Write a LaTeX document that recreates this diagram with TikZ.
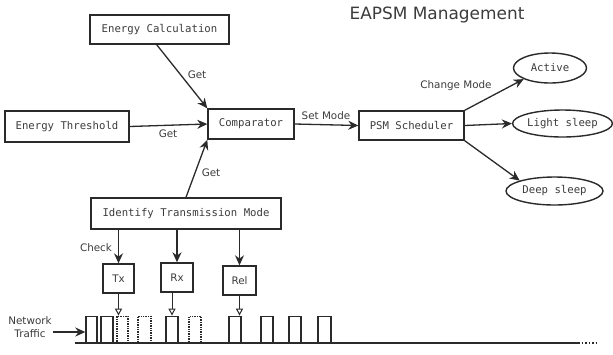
\documentclass[tikz,border=0pt]{standalone}
\usepackage{fontspec}
\setmainfont{DejaVu Sans}
\setmonofont{DejaVu Sans Mono}
\usetikzlibrary{arrows.meta,shapes.geometric,calc}
\definecolor{ink}{HTML}{2A2A2A}
\definecolor{txt}{HTML}{3C3C3C}
\begin{document}
\begin{tikzpicture}[x=1bp,y=-1bp,
  box/.style={draw=ink,line width=1.4bp,rectangle,inner sep=0pt,text=txt,font=\fontsize{10.7}{12}\selectfont\ttfamily},
  oval/.style={draw=ink,line width=1.4bp,ellipse,inner sep=0pt,text=txt,font=\fontsize{10.7}{12}\selectfont\ttfamily},
  smallbox/.style={draw=ink,line width=1.4bp,rectangle,inner sep=0pt,text=txt,font=\fontsize{10.4}{12}\selectfont},
  arr/.style={draw=ink,line width=1.3bp,-{Stealth[length=10bp,width=9bp]}},
  openarr/.style={draw=ink,line width=1bp,-{Triangle[open,length=7bp,width=7bp]}},
  lbl/.style={inner sep=0pt,text=txt,font=\fontsize{10.4}{12}\selectfont},
  pulse/.style={draw=ink,line width=1.4bp,rectangle,inner sep=0pt,minimum height=26bp},
  ghost/.style={pulse,densely dotted}]
\useasboundingbox (0,0) rectangle (613,354);
\fill[white] (0,0) rectangle (613,354);

\node[inner sep=0pt,text=txt,font=\fontsize{17}{20}\selectfont] (title) at (437,15) {EAPSM Management};

\node[box,minimum width=139bp,minimum height=29bp] (ec) at (159.5,29.5) {Energy Calculation};
\node[box,minimum width=124bp,minimum height=31bp] (et) at (67,126.5) {Energy Threshold};
\node[box,minimum width=86bp,minimum height=30bp] (cmp) at (251,124) {Comparator};
\node[box,minimum width=105bp,minimum height=29bp] (psm) at (411.5,125.5) {PSM Scheduler};
\node[box,minimum width=190bp,minimum height=31bp] (idm) at (186,213.5) {Identify Transmission Mode};

\node[oval,minimum width=73bp,minimum height=30bp] (act) at (550,68) {Active};
\node[oval,minimum width=99bp,minimum height=27bp] (lsl) at (562.5,123.5) {Light sleep};
\node[oval,minimum width=97bp,minimum height=28bp] (dsl) at (554.5,191) {Deep sleep};

\node[smallbox,minimum width=31bp,minimum height=29bp] (tx) at (118.5,278.5) {Tx};
\node[smallbox,minimum width=32bp,minimum height=29bp] (rx) at (177,277.5) {Rx};
\node[smallbox,minimum width=33bp,minimum height=29bp] (rel) at (239.5,280.5) {Rel};

% labels
\node[lbl] (g1) at (197,75) {Get};
\node[lbl] (g2) at (168,134) {Get};
\node[lbl] (g3) at (211,173) {Get};
\node[lbl] (sm) at (326,116) {Set Mode};
\node[lbl] (cm) at (456,86) {Change Mode};
\node[lbl] (chk) at (96,248) {Check};
\node[lbl,align=center,font=\fontsize{10.4}{13}\selectfont] (nt) at (30,327.5) {Network\\Traffic};

% top connectors
\draw[arr] ($(ec.south west)!0.48!(ec.south east)$) -- (cmp.north west);
\draw[arr] (et.east) -- (cmp.west);
\draw[arr] (idm.north) -- (cmp.south west);
\draw[arr] (cmp.east) -- (psm.west);
\draw[arr] (psm.north east) -- (act.south west);
\draw[arr] (psm.east) -- (lsl.west);
\draw[arr] (psm.south east) -- (dsl.north west);

% identify -> tx/rx/rel
\draw[arr] (idm.south -| tx.north) -- (tx.north);
\draw[arr] (idm.south -| rx.north) -- (rx.north);
\draw[arr] (idm.south -| rel.north) -- (rel.north);

% traffic
\coordinate (b0) at (75,343);
\coordinate (b1) at (578,343);
\draw[draw=ink,line width=1.4bp] (b0) -- (b1);
\draw[draw=ink,line width=1.6bp,dotted] (b1) -- ++(19,0);

\node[pulse,minimum width=11bp,anchor=south] (p1) at (91.5,343) {};
\node[pulse,minimum width=12bp,anchor=south] (p2) at (107,343) {};
\node[ghost,minimum width=11bp,anchor=south] (p3) at (122.5,343) {};
\node[ghost,minimum width=13bp,anchor=south] (p4) at (144.5,343) {};
\node[pulse,minimum width=12bp,anchor=south] (p5) at (172,343) {};
\node[ghost,minimum width=12bp,anchor=south] (p6) at (195,343) {};
\node[pulse,minimum width=12bp,anchor=south] (p7) at (235,343) {};
\node[pulse,minimum width=12bp,anchor=south] (p8) at (267,343) {};
\node[pulse,minimum width=12bp,anchor=south] (p9) at (295,343) {};
\node[pulse,minimum width=13bp,anchor=south] (p10) at (324.5,343) {};

\draw[openarr] (tx.south) -- (tx.south |- p3.north);
\draw[openarr] (rx.south -| p5.north) -- (p5.north);
\draw[openarr] (rel.south) -- (rel.south |- p7.north);

\coordinate (ntend) at (53,332);
\draw[arr] (ntend) -- (ntend -| p1.west);
\end{tikzpicture}
\end{document}
